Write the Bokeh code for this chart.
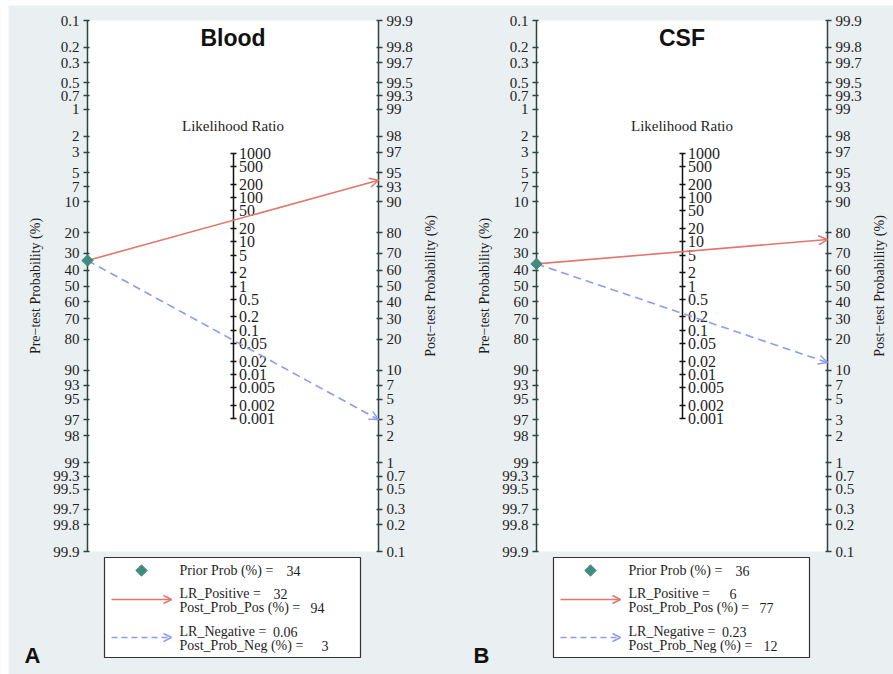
import numpy as np
from bokeh.plotting import figure
from bokeh.models import Range1d, LinearAxis, FixedTicker, Arrow, OpenHead, Label
from bokeh.embed import file_html
from bokeh.resources import INLINE

# ---------------- data ----------------
panel_titles = ["Blood", "CSF"]
panel_letters = ["A", "B"]
prior_prob = [34, 36]          # %
lr_positive = [32, 6]
post_prob_pos = [94, 77]       # %
lr_negative = [0.06, 0.23]
post_prob_neg = [3, 12]        # %

prob_ticks = [0.1, 0.2, 0.3, 0.5, 0.7, 1, 2, 3, 5, 7, 10, 20, 30, 40, 50, 60,
              70, 80, 90, 93, 95, 97, 98, 99, 99.3, 99.5, 99.7, 99.8, 99.9]
lr_ticks = [1000, 500, 200, 100, 50, 20, 10, 5, 2, 1, 0.5, 0.2, 0.1, 0.05,
            0.02, 0.01, 0.005, 0.002, 0.001]

# ---------------- geometry helpers ----------------
W, H = 893, 674
PANEL_OFFSET_PX = [0, 449]
Y_TOP_PX, Y_BOT_PX = 20, 551
X_LEFT_PX, X_RIGHT_PX = 87, 378


def logit(p):
    return float(np.log(p / (1.0 - p)))


LMAX = logit(0.999)
SCALE = (Y_BOT_PX - Y_TOP_PX) / (2 * LMAX)
YMID = (Y_TOP_PX + Y_BOT_PX) / 2.0


def py(pix):
    return (YMID - pix) / SCALE


def px(pix):
    return (pix - X_LEFT_PX) / (X_RIGHT_PX - X_LEFT_PX)


def fmt(v):
    return f"{v:g}"


BG = "#eaeff1"
RED = "#e2766c"
BLUE = "#8d9cee"
TEAL = "#3f8c7e"
AXC = "#2c4343"
TXT = "#1e1e1e"
SERIF = "Liberation Serif"
SANS = "Liberation Sans"


def style_axis(ax, tin, tout, color):
    ax.axis_line_color = color
    ax.axis_line_width = 1.5
    ax.major_tick_line_color = color
    ax.major_tick_line_width = 1.5
    ax.major_tick_in = tin
    ax.major_tick_out = tout
    ax.minor_tick_in = 0
    ax.minor_tick_out = 0
    ax.major_label_text_font = SERIF
    ax.major_label_text_font_size = "15px"
    ax.major_label_text_color = TXT
    ax.major_label_standoff = 4


p = figure(width=W, height=H,
           x_range=Range1d(px(0), px(W)), y_range=Range1d(py(H), py(0)),
           output_backend="svg", toolbar_location=None,
           x_axis_location=None, y_axis_location=None,
           min_border=0, min_border_left=0, min_border_right=0,
           min_border_top=0, min_border_bottom=0,
           outline_line_color=None, background_fill_color=BG,
           border_fill_color=BG)
p.grid.grid_line_color = None

# white page edges
p.quad(left=px(-5), right=px(W + 5), bottom=py(5), top=py(-5), fill_color="white", line_color=None)
p.quad(left=px(-5), right=px(8), bottom=py(H + 5), top=py(-5), fill_color="white", line_color=None)


def draw_panel(i):
    o = PANEL_OFFSET_PX[i]

    def X(pix):
        return px(pix + o)

    x0 = X(X_LEFT_PX)
    x1 = X(X_RIGHT_PX)
    xm = (x0 + x1) / 2

    p.quad(left=x0, right=x1, bottom=-LMAX, top=LMAX, fill_color="white", line_color=None)

    # axes
    pre_pos = [-logit(v / 100) for v in prob_ticks]
    ax_l = LinearAxis(fixed_location=x0, ticker=FixedTicker(ticks=pre_pos),
                      major_label_overrides={k: fmt(v) for k, v in zip(pre_pos, prob_ticks)},
                      bounds=(-LMAX, LMAX))
    style_axis(ax_l, 2, 4, AXC)
    p.add_layout(ax_l, "left")

    post_pos = [logit(v / 100) for v in prob_ticks]
    ax_r = LinearAxis(fixed_location=x1, ticker=FixedTicker(ticks=post_pos),
                      major_label_overrides={k: fmt(v) for k, v in zip(post_pos, prob_ticks)},
                      bounds=(-LMAX, LMAX))
    style_axis(ax_r, 2, 4, AXC)
    p.add_layout(ax_r, "right")

    lr_pos = [float(np.log(v)) / 2 for v in lr_ticks]
    ax_m = LinearAxis(fixed_location=xm, ticker=FixedTicker(ticks=lr_pos),
                      major_label_overrides={k: fmt(v) for k, v in zip(lr_pos, lr_ticks)},
                      bounds=(min(lr_pos), max(lr_pos)))
    style_axis(ax_m, 3, 3, "#111111")
    ax_m.major_label_standoff = 3
    ax_m.major_label_text_font_size = "16px"
    p.add_layout(ax_m, "right")

    # nomogram lines
    pre_y = -logit(prior_prob[i] / 100)
    pos_y = logit(post_prob_pos[i] / 100)
    neg_y = logit(post_prob_neg[i] / 100)
    p.add_layout(Arrow(end=OpenHead(size=9, line_color=RED, line_width=1.5),
                       x_start=x0, y_start=pre_y, x_end=x1, y_end=pos_y,
                       line_color=RED, line_width=1.6))
    p.add_layout(Arrow(end=OpenHead(size=9, line_color=BLUE, line_width=1.5),
                       x_start=x0, y_start=pre_y, x_end=x1, y_end=neg_y,
                       line_color=BLUE, line_width=1.6, line_dash="8 5"))
    p.scatter([x0], [pre_y], marker="square", angle=np.pi / 4, size=8,
              fill_color=TEAL, line_color=TEAL, level="overlay")

    # titles and labels
    p.add_layout(Label(x=xm, y=py(37), text=panel_titles[i], text_font=SANS,
                       text_font_style="bold", text_font_size="23px", text_color="#111111",
                       text_align="center", text_baseline="middle"))
    p.add_layout(Label(x=xm, y=py(125), text="Likelihood Ratio", text_font=SERIF,
                       text_font_size="15px", text_color=TXT,
                       text_align="center", text_baseline="middle"))
    p.add_layout(Label(x=X(35), y=0, text="Pre\u2212test Probability (%)", text_font=SERIF,
                       text_font_size="14px", text_color=TXT, angle=np.pi / 2,
                       text_align="center", text_baseline="middle"))
    p.add_layout(Label(x=X(430), y=0, text="Post\u2212test Probability (%)", text_font=SERIF,
                       text_font_size="14px", text_color=TXT, angle=np.pi / 2,
                       text_align="center", text_baseline="middle"))
    p.add_layout(Label(x=X(32), y=py(655), text=panel_letters[i], text_font=SANS,
                       text_font_style="bold", text_font_size="22px", text_color="#111111",
                       text_align="center", text_baseline="middle"))

    # legend box
    p.quad(left=X(104), right=X(360), top=py(557), bottom=py(657),
           fill_color="white", line_color="#333333", line_width=1.2)
    p.scatter([X(141)], [py(570)], marker="square", angle=np.pi / 4, size=8,
              fill_color=TEAL, line_color=TEAL)
    p.add_layout(Arrow(end=OpenHead(size=8, line_color=RED, line_width=1.5),
                       x_start=X(111), y_start=py(599), x_end=X(171), y_end=py(599),
                       line_color=RED, line_width=1.6))
    p.add_layout(Arrow(end=OpenHead(size=8, line_color=BLUE, line_width=1.5),
                       x_start=X(111), y_start=py(637), x_end=X(171), y_end=py(637),
                       line_color=BLUE, line_width=1.6, line_dash="6 4"))

    rows = [("Prior Prob (%) =", fmt(prior_prob[i]), 570, 300),
            ("LR_Positive =", fmt(lr_positive[i]), 593, 287),
            ("Post_Prob_Pos (%) =", fmt(post_prob_pos[i]), 607, 324),
            ("LR_Negative =", fmt(lr_negative[i]), 631, 297),
            ("Post_Prob_Neg (%) =", fmt(post_prob_neg[i]), 645, 328)]
    for lab, val, ypix, vx in rows:
        p.add_layout(Label(x=X(179), y=py(ypix), text=lab, text_font=SERIF,
                           text_font_size="14px", text_color=TXT,
                           text_align="left", text_baseline="middle"))
        p.add_layout(Label(x=X(vx), y=py(ypix), text=val, text_font=SERIF,
                           text_font_size="14px", text_color=TXT,
                           text_align="right", text_baseline="middle"))


draw_panel(0)
draw_panel(1)

open("out.html", "w").write(file_html(p, INLINE))
